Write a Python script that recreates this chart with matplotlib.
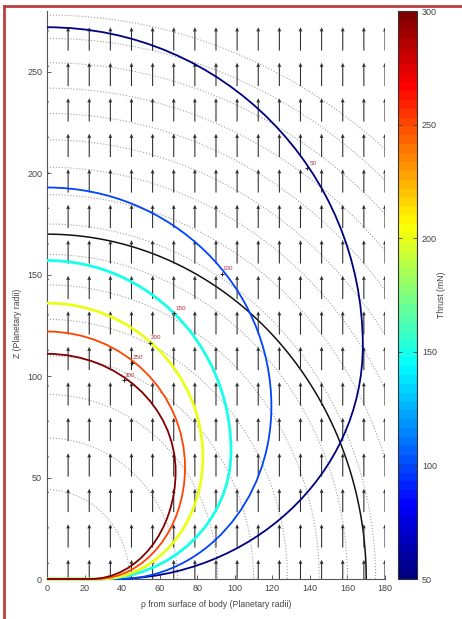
import numpy as np
import matplotlib
matplotlib.use('Agg')
import matplotlib.pyplot as plt
from matplotlib.lines import Line2D
from matplotlib.colors import Normalize, LinearSegmentedColormap
from matplotlib.path import Path
from matplotlib.patches import PathPatch

plt.rcParams['font.family'] = ['Liberation Sans', 'DejaVu Sans']

# thrust levels (mN); each iso-thrust loop is described by where it crosses
# the Z axis, its widest point (rho, Z) and where it lands on the rho axis
levels = [50, 100, 150, 200, 250, 300]
top_z = [272, 193, 157, 136, 122, 111]
max_rho = [168.2, 119.5, 98, 83, 73.5, 68.5]
z_at_max = [115, 85, 63, 60, 55, 53]
foot_rho = [35, 38, 27, 28, 26, 23]

# where each level is labelled
label_x = [141.5, 96.5, 71, 58, 48.5, 44]
label_y = [205, 153, 133.5, 119, 109, 100.5]

# radius of the black boundary and of the dotted distance rings
boundary_r = 170
ring_r = [44, 69.5, 91, 110, 128, 145, 160, 175, 189.5, 203, 216.5, 229.5, 242, 254.5, 266.5, 278]

K = 0.5523  # bezier handle for a quarter ellipse


def loop_path(z0, xm, zm, xf):
    verts = [(0, z0),
             (K * xm, z0), (xm, zm + K * (z0 - zm)), (xm, zm),
             (xm, zm - K * zm), (xf + K * (xm - xf), 0), (xf, 0),
             (0, 0)]
    codes = [Path.MOVETO] + [Path.CURVE4] * 6 + [Path.LINETO]
    return Path(verts, codes)


# matlab style jet
jet = LinearSegmentedColormap('mjet', {
    'red': [(0, 0, 0), (0.375, 0, 0), (0.625, 1, 1), (0.875, 1, 1), (1, 0.5, 0.5)],
    'green': [(0, 0, 0), (0.125, 0, 0), (0.375, 1, 1), (0.625, 1, 1), (0.875, 0, 0), (1, 0, 0)],
    'blue': [(0, 0.5, 0.5), (0.125, 1, 1), (0.375, 1, 1), (0.625, 0, 0), (1, 0, 0)],
}, N=64)

fig = plt.figure(figsize=(4.62, 6.19), dpi=100)
ax = fig.add_axes([0.1017, 0.0646, 0.7316, 0.9176])
cax = fig.add_axes([0.8615, 0.0646, 0.0411, 0.9176])

norm = Normalize(50, 300)

# dotted rings + boundary
gx, gy = np.meshgrid(np.linspace(0, 180, 400), np.linspace(0, 280, 600))
rr = np.hypot(gx, gy)
ax.contour(gx, gy, rr, levels=ring_r, colors='#a0a0a0', linestyles=':', linewidths=0.8)
ax.contour(gx, gy, rr, levels=[boundary_r], colors='#111111', linewidths=1.1)

# uniform upward field
qx, qy = np.meshgrid(np.linspace(0, 180, 17), np.arange(0, 280, 17.5))
ax.quiver(qx, qy - 2, np.zeros_like(qx), np.full_like(qy, 11.5), angles='xy', scale_units='xy', scale=1,
          color='#2e2e2e', width=0.0032, headwidth=3.6, headlength=4.0, headaxislength=3.6, zorder=2)

for i, lev in enumerate(levels):
    lw = 2.0 if lev in (150, 200) else 1.3
    p = loop_path(top_z[i], max_rho[i], z_at_max[i], foot_rho[i])
    ax.add_patch(PathPatch(p, fill=False, edgecolor=jet(norm(lev)), lw=lw, zorder=3, clip_on=False))

for lev, lx, ly in zip(levels, label_x, label_y):
    ax.plot(lx - 3.2, ly - 2.5, '+', color='#222222', ms=2.5, mew=0.7, zorder=4)
    ax.text(lx, ly, str(lev), color='#b0303c', fontsize=4.5, ha='center', va='center', zorder=5)

ax.set_xlim(0, 180)
ax.set_ylim(0, 280)
ax.set_xticks(np.arange(0, 181, 20))
ax.set_yticks(np.arange(0, 251, 50))
ax.tick_params(direction='in', labelsize=6.5, colors='#444444', length=3, width=0.6)
for s in ['top', 'right']:
    ax.spines[s].set_visible(False)
for s in ['left', 'bottom']:
    ax.spines[s].set_color('#555555')
    ax.spines[s].set_linewidth(0.8)
ax.set_xlabel('ρ from surface of body (Planetary radii)', fontsize=6.2, color='#444444', labelpad=5)
ax.set_ylabel('Z (Planetary radii)', fontsize=6.2, color='#444444')
ax.yaxis.set_label_coords(-0.075, 0.45)

sm = plt.cm.ScalarMappable(norm=norm, cmap=jet)
cb = fig.colorbar(sm, cax=cax)
cb.set_ticks([50, 100, 150, 200, 250, 300])
cb.ax.tick_params(direction='in', labelsize=6.5, colors='#444444', length=3, width=0.6, left=True)
cb.outline.set_linewidth(0.8)
cb.outline.set_edgecolor('#333333')
cb.set_label('Thrust (mN)', fontsize=6.2, color='#444444', labelpad=0)

# frame
fig.add_artist(Line2D([0.009, 0.009], [0, 0.991], color='#b8403f', lw=2, transform=fig.transFigure))
fig.add_artist(Line2D([0.009, 1], [0.991, 0.991], color='#b8403f', lw=2, transform=fig.transFigure))

fig.savefig('out.png', dpi=100)
